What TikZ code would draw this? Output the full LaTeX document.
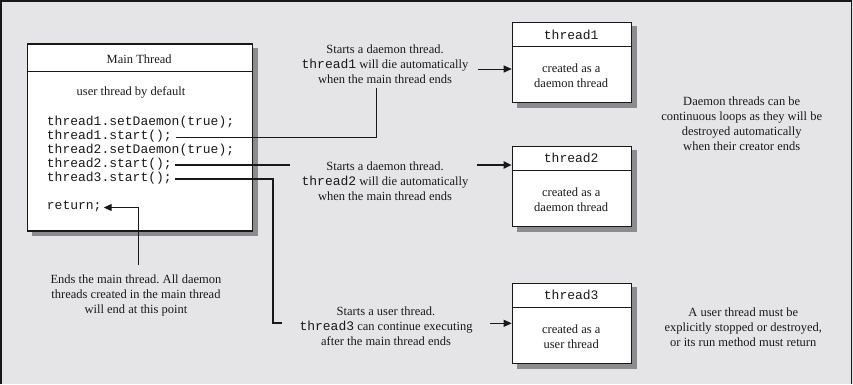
\documentclass[tikz,border=0pt]{standalone}
\usepackage{fontspec}
\setmainfont{Liberation Serif}
\newfontfamily\cde{Liberation Mono}
\usetikzlibrary{arrows.meta,calc,backgrounds}
\definecolor{bgc}{RGB}{229,229,231}
\definecolor{shadowgray}{RGB}{140,140,142}
\definecolor{ink}{RGB}{25,25,25}
\tikzset{
 box/.style={draw=ink, line width=1.5pt, fill=white, minimum width=119pt, minimum height=80pt, inner sep=0pt, anchor=north west},
 shadowfill/.style={fill=shadowgray, draw=none},
 lbl/.style={font=\fontsize{12.5}{15}\selectfont, align=center, text=ink, inner sep=1pt},
 code/.style={font=\cde\fontsize{13}{14}\selectfont, anchor=mid west, inner sep=0pt, text=ink},
 hdr/.style={font=\cde\fontsize{13}{14}\selectfont, inner sep=0pt, text=ink},
 thinln/.style={draw=ink, line width=1pt},
 thickln/.style={draw=ink, line width=1.8pt},
 tip/.style={-{Triangle[length=8pt,width=7pt]}},
 divln/.style={draw=ink, line width=1.5pt},
}
\newcommand\mono[1]{{\cde\fontsize{13}{15}\selectfont #1}}
\frenchspacing
\begin{document}
\begin{tikzpicture}[x=1pt,y=-1pt]
\useasboundingbox (0,0) rectangle (853,384);

% main thread box
\node[box, minimum width=225pt, minimum height=186.7pt] (main) at (26.7,43.3) {};
\draw[divln] ([yshift=-28.4pt]main.north west) -- ([yshift=-28.4pt]main.north east);
\node[lbl] (mt) at (139.2,59) {Main Thread};
\node[lbl] (ud) at (131,92.7) {user thread by default};
\node[code] (c1) at (46.7,123) {thread1.setDaemon(true);};
\node[code] (c2) at (46.7,137) {thread1.start();};
\node[code] (c3) at (46.7,151) {thread2.setDaemon(true);};
\node[code] (c4) at (46.7,165) {thread2.start();};
\node[code] (c5) at (46.7,179.3) {thread3.start();};
\node[code] (c6) at (46.7,207.5) {return;};

% thread boxes
\node[box] (b1) at (511.7,21.7) {};
\draw[divln] ([yshift=-25pt]b1.north west) -- ([yshift=-25pt]b1.north east);
\node[hdr] (h1) at (571.2,35) {thread1};
\node[lbl] (d1) at (571.2,76.2) {created as a\\daemon thread};

\node[box] (b2) at (511.7,145.7) {};
\draw[divln] ([yshift=-25pt]b2.north west) -- ([yshift=-25pt]b2.north east);
\node[hdr] (h2) at (571.2,158.3) {thread2};
\node[lbl] (d2) at (571.2,200.2) {created as a\\daemon thread};

\node[box] (b3) at (511.7,282.7) {};
\draw[divln] ([yshift=-25pt]b3.north west) -- ([yshift=-25pt]b3.north east);
\node[hdr] (h3) at (571.2,295) {thread3};
\node[lbl] (d3) at (571.2,337) {created as a\\user thread};

\begin{scope}[on background layer]
\fill[bgc] (0,0) rectangle (853,384);
\foreach \b in {main,b1,b2,b3}{
  \fill[shadowfill] ([xshift=5pt,yshift=-4.7pt]\b.south west) rectangle ([xshift=5pt,yshift=-4.7pt]\b.north east);
}
\end{scope}
\draw[ink, line width=1.5pt] (0.75,384) -- (0.75,0.75) -- (851.3,0.75) -- (851.3,384);

% annotations
\node[lbl] (t1) at (385,64.3) {Starts a daemon thread.\\\mono{thread1} will die automatically\\when the main thread ends};
\node[lbl] (t2) at (385,181.6) {Starts a daemon thread.\\\mono{thread2} will die automatically\\when the main thread ends};
\node[lbl] (t3) at (386,326) {Starts a user thread.\\\mono{thread3} can continue executing\\after the main thread ends};
\node[lbl] (r1) at (741.7,123.8) {Daemon threads can be\\continuous loops as they will be\\destroyed automatically\\when their creator ends};
\node[lbl] (r2) at (743.3,327) {A user thread must be\\explicitly stopped or destroyed,\\or its run method must return};
\node[lbl] (tm) at (136,295) {Ends the main thread. All daemon\\threads created in the main thread\\will end at this point};

% connectors
\coordinate (k1) at (376.7,88.3);
\draw[thinln] ([xshift=4pt]c2.mid east) -| (k1);
\coordinate (e2) at (290,165);
\draw[thickln] ([xshift=3pt]c4.mid east) -- (e2 |- c4.mid east);
\coordinate (k3) at (273,323.3);
\coordinate (e3) at (281.7,323.3);
\draw[thickln] ([xshift=3pt]c5.mid east) -| (k3) -- (e3);
\coordinate (k4) at (138.3,265);
\draw[thinln, tip] (k4) |- ([xshift=2pt]c6.mid east);

\coordinate (a1) at (478.3,69);
\draw[thinln, tip] (a1) -- (a1 -| b1.west);
\coordinate (a2) at (476.7,165);
\draw[thickln, tip] (a2) -- (a2 -| b2.west);
\coordinate (a3) at (490,323.3);
\draw[thinln, tip] (a3) -- (a3 -| b3.west);
\end{tikzpicture}
\end{document}
